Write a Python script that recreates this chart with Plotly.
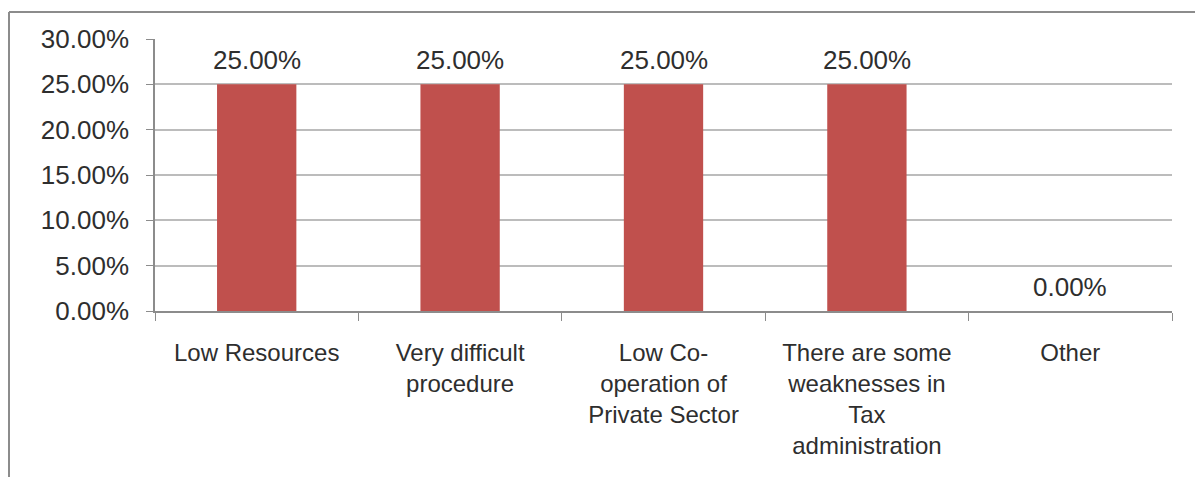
import plotly.graph_objects as go

categories = [
    "Low Resources",
    "Very difficult<br>procedure",
    "Low Co-<br>operation of<br>Private Sector",
    "There are some<br>weaknesses in<br>Tax<br>administration",
    "Other",
]
shares = [0.25, 0.25, 0.25, 0.25, 0.0]

FONT = "Liberation Sans, Arial, sans-serif"
TEXT = "#2e2e2e"

fig = go.Figure(
    go.Bar(
        x=categories,
        y=shares,
        marker=dict(color="#C0504D", line=dict(width=0)),
        width=0.39,
        hoverinfo="x+y",
    )
)

# value labels above each bar, placed at the bar's own value
for cat, val in zip(categories, shares):
    fig.add_annotation(
        x=cat, y=val, xref="x", yref="y",
        text=f"{val:.2%}",
        showarrow=False,
        yanchor="middle",
        yshift=24,
        font=dict(family=FONT, size=26, color=TEXT),
    )

W, H = 1195, 477
L, R, T, B = 155, 23, 39, 166
pw, ph = W - L - R, H - T - B

def px_x(x):
    return (x - L) / pw

def px_y(y):
    return (H - B - y) / ph

# outer frame: left and top edges
fig.add_shape(type="line", xref="paper", yref="paper",
              x0=px_x(9), x1=px_x(W + 5), y0=px_y(12), y1=px_y(12),
              line=dict(color="#8c8c8c", width=2))
fig.add_shape(type="line", xref="paper", yref="paper",
              x0=px_x(9), x1=px_x(9), y0=px_y(12), y1=px_y(H + 5),
              line=dict(color="#8c8c8c", width=2))

fig.update_layout(
    width=W,
    height=H,
    margin=dict(l=L, r=R, t=T, b=B, pad=0),
    paper_bgcolor="white",
    plot_bgcolor="white",
    showlegend=False,
    font=dict(family=FONT, size=24, color=TEXT),
)

fig.update_yaxes(
    range=[0, 0.30],
    dtick=0.05,
    tickformat=".2%",
    showgrid=True,
    gridcolor="#bcbcbc",
    gridwidth=1.5,
    showline=True,
    linecolor="#8c8c8c",
    linewidth=1.5,
    ticks="outside",
    ticklen=7,
    tickcolor="#8c8c8c",
    ticklabelstandoff=12,
    zeroline=False,
    tickfont=dict(family=FONT, size=26, color=TEXT),
)

fig.update_xaxes(
    showline=True,
    linecolor="#8c8c8c",
    linewidth=1.5,
    ticks="outside",
    tickson="boundaries",
    ticklen=8,
    tickcolor="#8c8c8c",
    ticklabelstandoff=19,
    tickangle=0,
    tickfont=dict(family=FONT, size=24, color=TEXT),
)

fig.write_html("out.html")
